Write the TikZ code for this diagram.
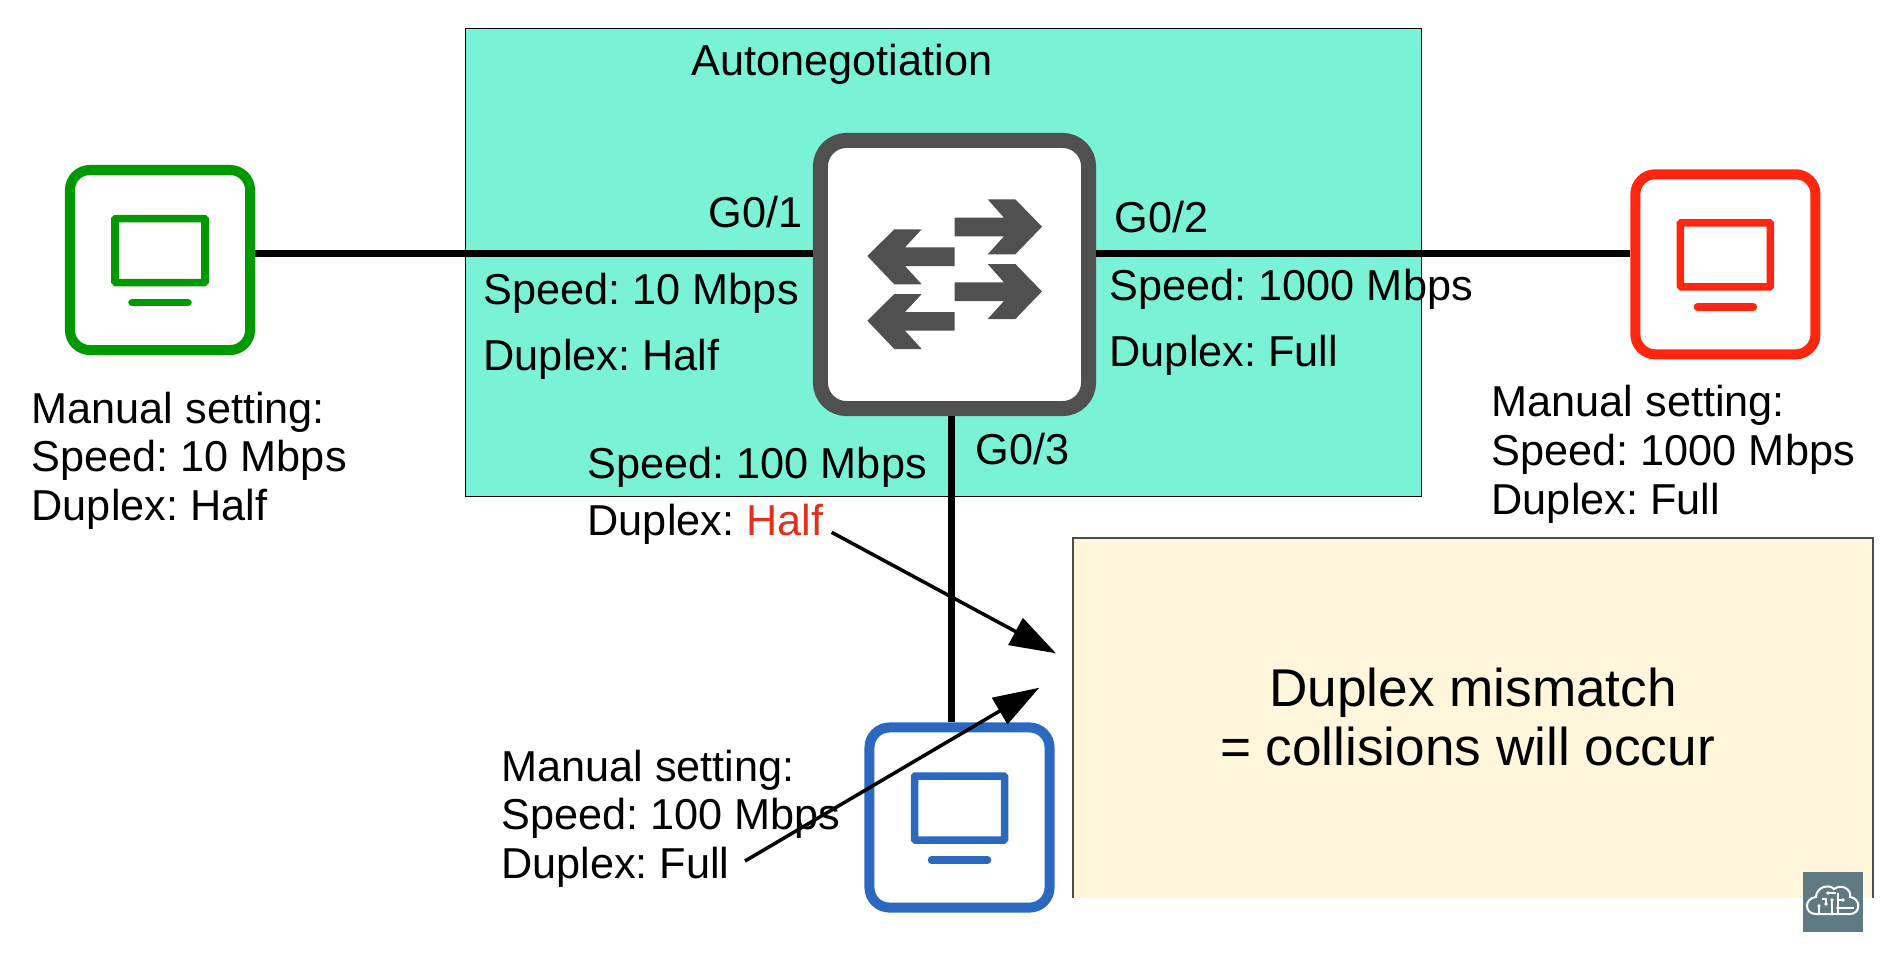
\documentclass[tikz,border=0pt]{standalone}
\usepackage{fontspec}
\setmainfont{Liberation Sans}
\usetikzlibrary{arrows.meta}
\definecolor{autoback}{HTML}{7AF2D6}
\definecolor{noteback}{HTML}{FFF6DC}
\definecolor{swgray}{HTML}{505050}
\definecolor{hostgreen}{HTML}{009900}
\definecolor{hostred}{HTML}{FF2610}
\definecolor{hostblue}{HTML}{2B68BF}
\definecolor{halfred}{HTML}{E0301E}
\definecolor{logoback}{HTML}{5F7A82}
\frenchspacing
\tikzset{
    label/.style={inner sep=0pt, anchor=base west, font=\fontsize{12.3}{13.7}\selectfont},
    block/.style={inner sep=0pt, anchor=north west, align=left, font=\fontsize{12.3}{13.9}\selectfont},
    note/.style={inner sep=0pt, anchor=base, font=\fontsize{15.12}{16.8}\selectfont},
    host/.style={draw=#1, fill=white, line width=0.1cm, rounded corners=0.2cm, minimum size=1.8cm, inner sep=0pt},
    link/.style={line width=0.065cm},
    pointer/.style={line width=0.035cm, -{Triangle[length=0.46cm, width=0.3cm]}},
}

\begin{document}
\begin{tikzpicture}[x=0.01cm, y=-0.01cm]
    \useasboundingbox (0, 0) rectangle (1884, 953);

    \coordinate (linkH) at (0, 253.3);
    \coordinate (linkV) at (951.7, 0);
    \coordinate (halfEnd) at (831.7, 532.3);
    \coordinate (fullEnd) at (745, 861);
    \coordinate (noteA) at (1056, 653.3);
    \coordinate (noteB) at (1039.3, 687.7);

    \fill[autoback] (465, 28) rectangle (1421.5, 496);
    \draw[line width=0.01cm] (465, 28) rectangle (1421.5, 496);

    \fill[noteback] (1073, 538) rectangle (1873, 897.5);
    \draw[line width=0.012cm, black!70] (1073, 897.5) -- (1073, 538) -- (1873, 538) -- (1873, 897.5);

    \node[host=hostgreen] (hostL) at (160, 260) {};
    \node[host=hostred] (hostR) at (1725.4, 264.3) {};
    \node[host=hostblue] (hostD) at (959.5, 817.5) {};
    \node[draw=swgray, fill=white, line width=0.15cm, rounded corners=0.26cm, minimum size=2.68cm, inner sep=0pt] (switch) at (954.5, 274.5) {};

    \draw[link] (hostL.east |- linkH) -- (switch.west |- linkH);
    \draw[link] (switch.east |- linkH) -- (hostR.west |- linkH);
    \draw[link] (switch.south -| linkV) -- (hostD.north -| linkV);

    % monitors
    \foreach \h/\c in {hostL/hostgreen, hostR/hostred, hostD/hostblue} {
        \draw[\c, line width=0.075cm, rounded corners=0.01cm] ([shift={(-45, -41.5)}]\h.center) rectangle ([shift={(45, 22.5)}]\h.center);
        \draw[\c, line width=0.075cm, line cap=round] ([shift={(-28, 42.7)}]\h.center) -- ([shift={(28, 42.7)}]\h.center);
    }

    % switch arrows
    \foreach \s in {0, 64.7} {
        \fill[swgray, yshift=-\s*0.01cm] (954.7, 217.7) -- (1004, 217.7) -- (987.7, 199.3) -- (1015.3, 199.3) -- (1042, 226.7) -- (1015.3, 254.3) -- (987.7, 254.3) -- (1004, 236.3) -- (954.7, 236.3) -- cycle;
        \fill[swgray, yshift=-\s*0.01cm] (954.7, 247.3) -- (905, 247.3) -- (921.7, 229.3) -- (894.3, 229.3) -- (867.3, 256) -- (894.3, 284.3) -- (921.7, 284.3) -- (905, 266) -- (954.7, 266) -- cycle;
    }

    \node[label] (autoneg) at (691, 75) {Autonegotiation};
    \node[label] (portA) at (708, 227) {G0/1};
    \node[label] (portB) at (1114, 232) {G0/2};
    \node[label] (portC) at (975, 464) {G0/3};

    \node[label] (speedA) at (483, 304.5) {Speed: 10 Mbps};
    \node[label] (duplexA) at (483, 370.5) {Duplex: Half};
    \node[label] (speedB) at (1109, 300.5) {Speed: 1000 Mbps};
    \node[label] (duplexB) at (1109, 366.5) {Duplex: Full};
    \node[label] (speedC) at (587, 478.5) {Speed: 100 Mbps};
    \node[label] (duplexC) at (587, 535.5) {Duplex: \textcolor{halfred}{Half}};

    \node[block] (manualL) at (31, 391) {Manual setting:\\Speed: 10 Mbps\\Duplex: Half};
    \node[block] (manualR) at (1491, 384.5) {Manual setting:\\Speed: 1000 Mbps\\Duplex: Full};
    \node[block] (manualD) at (500.5, 749) {Manual setting:\\Speed: 100 Mbps\\Duplex: Full};

    \node[note] (mismatchA) at (1473, 706.5) {Duplex mismatch};
    \node[note] (mismatchB) at (1467.5, 765.5) {= collisions will occur};

    \draw[pointer] (halfEnd) -- (noteA);
    \draw[pointer] (fullEnd) -- (noteB);

    % logo
    \fill[logoback] (1803, 872) rectangle (1862.7, 931.7);
    \draw[white, line width=0.02cm] (1816, 914) .. controls (1804, 914) and (1804, 898) .. (1816, 897) .. controls (1816, 888) and (1828, 883) .. (1834, 889) .. controls (1842, 883) and (1852, 890) .. (1850, 897) .. controls (1861, 898) and (1861, 914) .. (1850, 914) -- cycle;
    \draw[white, line width=0.015cm] (1819, 914) -- (1819, 906) (1832, 914) -- (1832, 900) (1838, 908) -- (1854, 908) (1838, 914) -- (1838, 893) (1838, 900) -- (1843, 900) (1826, 904) -- (1826, 899) -- (1822, 899) (1828, 893) -- (1836, 893);
    \fill[white] (1819, 906) circle (1.8) (1832, 900) circle (1.8) (1838, 908) circle (1.8) (1843, 900) circle (1.8) (1826, 904) circle (1.8) (1828, 893) circle (1.8);
\end{tikzpicture}
\end{document}
